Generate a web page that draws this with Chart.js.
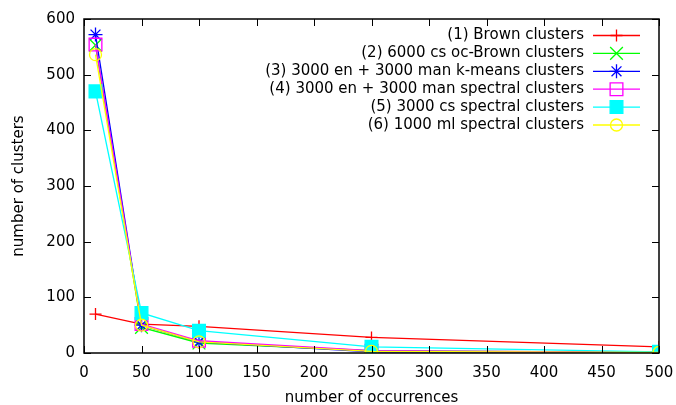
<!DOCTYPE html>
<html>
<head>
<meta charset="utf-8">
<script src="https://cdn.jsdelivr.net/npm/chart.js@4/dist/chart.umd.min.js"></script>
<style>
  html, body { margin: 0; padding: 0; background: #fff; }
  #wrap { width: 676px; height: 405px; }
</style>
</head>
<body>
<div id="wrap"><canvas id="c"></canvas></div>
<script>
/* ---- data ---- */
const occurrences = [10, 50, 100, 250, 500];
const labels = [
  '(1) Brown clusters',
  '(2) 6000 cs oc-Brown clusters',
  '(3) 3000 en + 3000 man k-means clusters',
  '(4) 3000 en + 3000 man spectral clusters',
  '(5) 3000 cs spectral clusters',
  '(6) 1000 ml spectral clusters'
];
const brown      = [70, 52, 48, 28, 11];
const ocBrown    = [553, 46, 18, 4, 1];
const kmeans     = [572, 50, 20, 2, 1];
const spectral4  = [554, 52, 22, 4, 1];
const spectral5  = [470, 72, 40, 11, 2];
const spectral6  = [536, 50, 20, 3, 1];
const xTicks = [0, 50, 100, 150, 200, 250, 300, 350, 400, 450, 500];
const yTicks = [0, 100, 200, 300, 400, 500, 600];

const FONT = { family: 'DejaVu Sans', size: 15 };
const LW = 1.3;

const styles = [
  { color: '#ff0000', point: 'cross',    r: 6, fill: false },
  { color: '#00ff00', point: 'crossRot', r: 9, fill: false },
  { color: '#0000ff', point: 'star',     r: 7, fill: false },
  { color: '#ff00ff', point: 'rect',     r: 9, fill: false },
  { color: '#00ffff', point: 'rect',     r: 9, fill: true  },
  { color: '#ffff00', point: 'circle',   r: 6, fill: false }
];
const series = [brown, ocBrown, kmeans, spectral4, spectral5, spectral6];

const datasets = series.map((vals, i) => ({
  label: labels[i],
  data: vals.map((v, j) => ({ x: occurrences[j], y: v })),
  borderColor: styles[i].color,
  backgroundColor: styles[i].fill ? styles[i].color : 'rgba(0,0,0,0)',
  pointBorderColor: styles[i].color,
  pointBackgroundColor: styles[i].fill ? styles[i].color : 'rgba(0,0,0,0)',
  pointStyle: styles[i].point,
  pointRadius: styles[i].r,
  pointBorderWidth: LW,
  borderWidth: LW,
  order: 6 - i
}));

/* ---- gnuplot-like frame, inward ticks, legend ---- */
const framePlugin = {
  id: 'frame',
  afterDatasetsDraw(chart) {
    const { ctx, chartArea: a, scales } = chart;
    const tl = 7;
    ctx.save();
    ctx.strokeStyle = '#000';
    ctx.lineWidth = 1;
    ctx.beginPath();
    xTicks.forEach(v => {
      const px = Math.round(scales.x.getPixelForValue(v)) + 0.5;
      ctx.moveTo(px, a.bottom); ctx.lineTo(px, a.bottom - tl);
      ctx.moveTo(px, a.top);    ctx.lineTo(px, a.top + tl);
    });
    yTicks.forEach(v => {
      const py = Math.round(scales.y.getPixelForValue(v)) + 0.5;
      ctx.moveTo(a.left, py);  ctx.lineTo(a.left + tl, py);
      ctx.moveTo(a.right, py); ctx.lineTo(a.right - tl, py);
    });
    ctx.stroke();
    ctx.lineWidth = 1.5;
    ctx.strokeRect(a.left, a.top, a.right - a.left, a.bottom - a.top);

    // legend, top right inside the plot
    ctx.font = FONT.size + 'px ' + FONT.family;
    ctx.textAlign = 'right';
    ctx.textBaseline = 'middle';
    const textRight = a.right - 75;
    const lineX0 = a.right - 66, lineX1 = a.right - 19;
    const markX = (lineX0 + lineX1) / 2;
    labels.forEach((lab, i) => {
      const y = a.top + 16.5 + i * 17.9;
      ctx.fillStyle = '#000';
      ctx.fillText(lab, textRight, y);
      ctx.strokeStyle = styles[i].color;
      ctx.lineWidth = LW;
      ctx.beginPath();
      ctx.moveTo(lineX0, y); ctx.lineTo(lineX1, y);
      ctx.stroke();
      ctx.fillStyle = styles[i].fill ? styles[i].color : 'rgba(0,0,0,0)';
      Chart.helpers.drawPoint(ctx, { pointStyle: styles[i].point, radius: styles[i].r, rotation: 0, borderWidth: LW }, markX, y);
    });
    ctx.restore();
  }
};

new Chart(document.getElementById('c'), {
  type: 'line',
  data: { datasets },
  plugins: [framePlugin],
  options: {
    responsive: true,
    maintainAspectRatio: false,
    animation: false,
    layout: { padding: { top: 19, right: 17, left: 0, bottom: 0 } },
    plugins: { legend: { display: false }, tooltip: { enabled: false } },
    scales: {
      x: {
        type: 'linear',
        min: 0, max: 500,
        afterBuildTicks: s => { s.ticks = xTicks.map(v => ({ value: v })); },
        afterFit: s => { s.height = 52; s.paddingLeft = 0; s.paddingRight = 0; },
        grid: { display: false, drawTicks: false },
        border: { display: false },
        ticks: { color: '#000', font: FONT, padding: 11, maxRotation: 0 },
        title: { display: true, text: 'number of occurrences', color: '#000', font: FONT, padding: { top: 0, bottom: -2 } }
      },
      y: {
        type: 'linear',
        min: 0, max: 600,
        afterBuildTicks: s => { s.ticks = yTicks.map(v => ({ value: v })); },
        afterFit: s => { s.width = 84; s.paddingTop = 0; s.paddingBottom = 0; },
        grid: { display: false, drawTicks: false },
        border: { display: false },
        ticks: { color: '#000', font: FONT, padding: 9 },
        title: { display: true, text: 'number of clusters', color: '#000', font: FONT, padding: { top: 10, bottom: 0 } }
      }
    }
  }
});
</script>
</body>
</html>
